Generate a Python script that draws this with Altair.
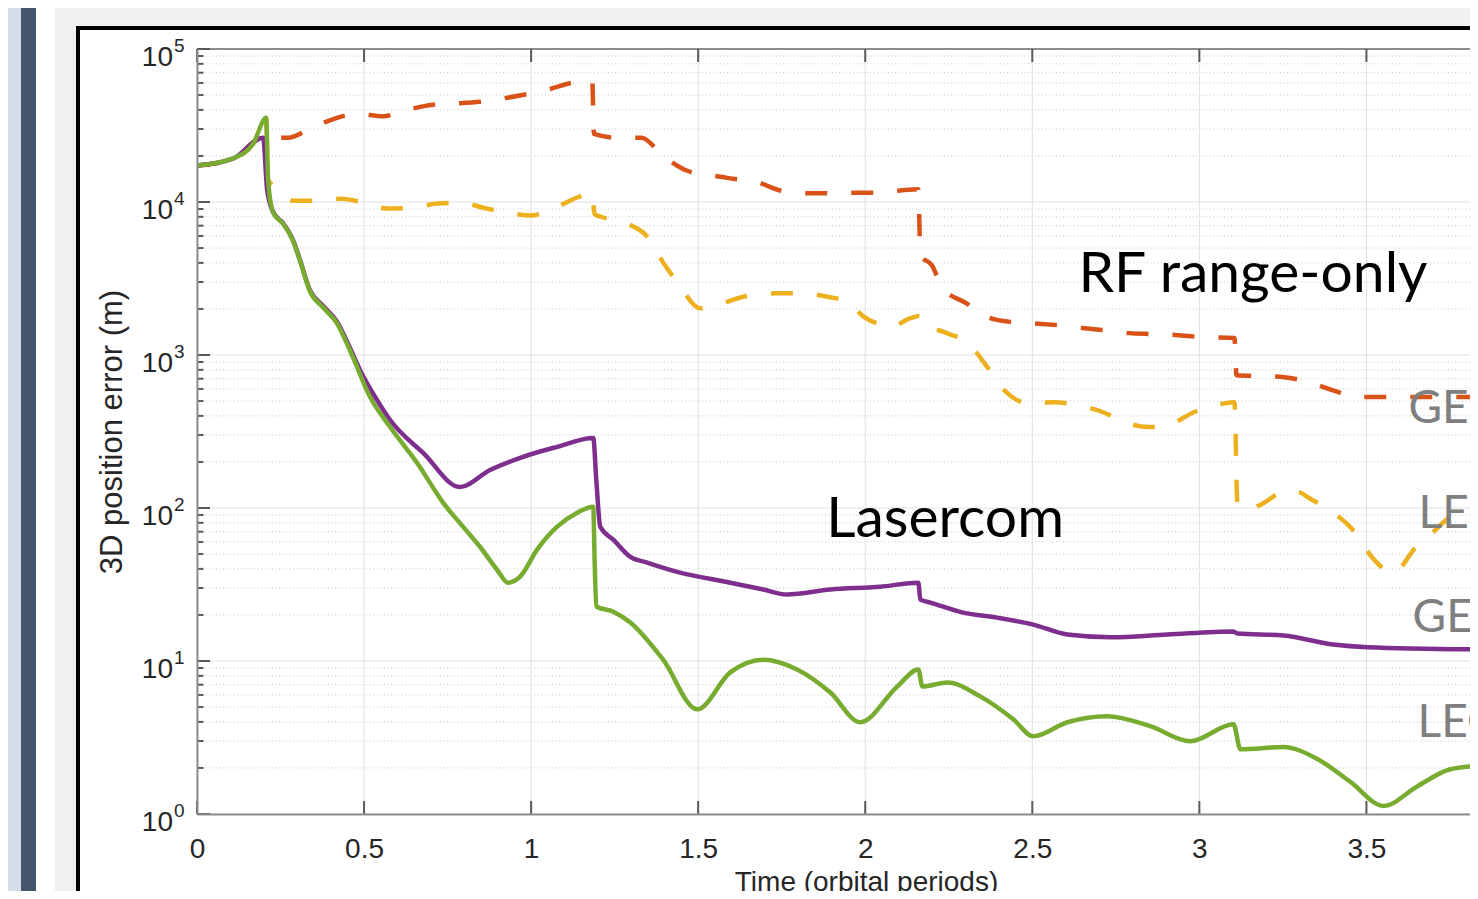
import altair as alt
import pandas as pd

# ---------------- data ----------------
# time in orbital periods, position error in metres
geo_laser_t = [0, 0.108, 0.198, 0.210, 0.228, 0.257, 0.287, 0.308, 0.338, 0.377,
               0.419, 0.458, 0.488, 0.539, 0.578, 0.677, 0.787, 0.877, 0.976, 1.078,
               1.186, 1.195, 1.207, 1.246, 1.296, 1.347, 1.446, 1.596, 1.695, 1.766,
               1.895, 2.045, 2.159, 2.165, 2.195, 2.293, 2.395, 2.503, 2.605, 2.734,
               2.904, 3.102, 3.114, 3.251, 3.401, 3.503, 3.835]
geo_laser_y = [17300, 19200, 26300, 12000, 8600, 7300, 5650, 4200, 2650, 2100,
               1650, 1110, 796, 507, 376, 229, 137, 177, 216, 251,
               287, 153, 75.3, 62.1, 48.1, 44.0, 37.8, 32.5, 29.3, 27.2,
               29.3, 30.6, 32.5, 25.2, 24.1, 20.7, 19.2, 17.3, 14.9, 14.3,
               14.9, 15.6, 15.1, 14.7, 12.8, 12.3, 11.9]

leo_laser_t = [0, 0.108, 0.168, 0.207, 0.213, 0.228, 0.257, 0.287, 0.308, 0.338,
               0.377, 0.419, 0.458, 0.518, 0.578, 0.659, 0.737, 0.796, 0.847, 0.898,
               0.931, 0.967, 1.018, 1.078, 1.138, 1.186, 1.190, 1.195, 1.246, 1.296,
               1.395, 1.497, 1.596, 1.695, 1.796, 1.895, 1.985, 2.096, 2.159, 2.171,
               2.246, 2.344, 2.443, 2.503, 2.605, 2.725, 2.853, 2.973, 3.102, 3.123,
               3.251, 3.353, 3.452, 3.551, 3.653, 3.751, 3.835]
leo_laser_y = [17300, 19300, 24000, 35500, 13800, 8530, 7230, 5600, 4150, 2610,
               2050, 1610, 1070, 531, 338, 197, 108, 75.5, 55.8, 39.5,
               32.5, 35.6, 53.5, 75.5, 93.1, 102, 45.9, 22.7, 21.0, 17.9,
               10.2, 4.83, 8.43, 10.2, 8.81, 6.24, 3.98, 6.82, 8.81, 6.82,
               7.24, 5.87, 4.16, 3.22, 3.98, 4.36, 3.75, 2.99, 3.86, 2.65,
               2.74, 2.29, 1.62, 1.13, 1.52, 1.96, 2.06]

geo_rf_t = [0, 0.108, 0.198, 0.272, 0.338, 0.419, 0.479, 0.557, 0.617, 0.707,
            0.757, 0.847, 0.907, 1.057, 1.12, 1.183, 1.188, 1.26, 1.33, 1.395,
            1.467, 1.542, 1.605, 1.68, 1.746, 1.826, 1.89, 1.964, 2.03, 2.105,
            2.159, 2.165, 2.2, 2.23, 2.302, 2.368, 2.44, 2.505, 2.584, 2.65,
            2.722, 2.79, 2.865, 2.93, 3.003, 3.105, 3.111, 3.189, 3.254, 3.326,
            3.398, 3.473, 3.835]
geo_rf_y = [17300, 19200, 26300, 26300, 30100, 35500, 37700, 36300, 39400, 43200,
            43900, 45200, 47200, 54800, 60000, 61800, 27900, 26300, 26300, 20000,
            16000, 14900, 14200, 13400, 11900, 11400, 11400, 11500, 11500, 11900,
            12100, 4470, 3850, 2770, 2180, 1760, 1640, 1610, 1560, 1500,
            1450, 1390, 1370, 1350, 1310, 1290, 738, 728, 716, 665,
            590, 531, 531]

leo_rf_t = [0, 0.108, 0.168, 0.207, 0.212, 0.24, 0.287, 0.362, 0.434, 0.497,
            0.572, 0.647, 0.719, 0.793, 0.856, 0.931, 0.997, 1.072, 1.138, 1.183,
            1.19, 1.207, 1.287, 1.35, 1.395, 1.44, 1.506, 1.551, 1.641, 1.731,
            1.805, 1.88, 1.955, 1.99, 2.045, 2.075, 2.135, 2.162, 2.171, 2.237,
            2.308, 2.368, 2.422, 2.488, 2.566, 2.632, 2.71, 2.775, 2.847, 2.898,
            2.985, 3.051, 3.105, 3.114, 3.144, 3.183, 3.257, 3.302, 3.323, 3.398,
            3.467, 3.518, 3.557, 3.581, 3.647, 3.701, 3.76, 3.835]
leo_rf_y = [17300, 19300, 24000, 35500, 14100, 12200, 10200, 10200, 10500, 9910,
            9060, 9180, 9770, 9910, 9180, 8530, 8150, 9180, 10700, 11500,
            8320, 8040, 7230, 5860, 4030, 2940, 2020, 2110, 2420, 2530,
            2530, 2420, 2180, 1820, 1580, 1520, 1740, 1800, 1610, 1410,
            1190, 820, 571, 485, 492, 471, 424, 365, 338, 344,
            424, 471, 492, 107, 97.2, 105, 128, 126, 118, 94.4,
            68.9, 47.3, 39.5, 37.8, 55.1, 70.0, 88.9, 93.1]

series_names = ["LEO RF", "GEO RF", "GEO Lasercom", "LEO Lasercom"]
series_colors = ["#EDB120", "#D95319", "#7E2F8E", "#77AC30"]

x_ticks = [0, 0.5, 1, 1.5, 2, 2.5, 3, 3.5]
y_decades = [1, 10, 100, 1000, 10000, 100000]
y_exponents = ["0", "1", "2", "3", "4", "5"]
minor_mult = [2, 3, 4, 5, 6, 7, 8, 9]

ann_text = ["RF range-only", "Lasercom", "GEO", "LEO", "GEO", "LEO"]
ann_t = [2.638, 1.883, 3.626, 3.656, 3.638, 3.653]
ann_y = [2570, 64.9, 359, 74.3, 15.4, 3.18]
ann_color = ["#000000", "#000000", "#7f7f7f", "#7f7f7f", "#7f7f7f", "#7f7f7f"]
ann_size = [57, 57, 46, 46, 46, 46]

# ---------------- tables ----------------
def sdf(t, y, name):
    return pd.DataFrame({"t": t, "y": y, "series": name})

dashed_df = pd.concat([sdf(leo_rf_t, leo_rf_y, "LEO RF"),
                       sdf(geo_rf_t, geo_rf_y, "GEO RF")])
geo_df = sdf(geo_laser_t, geo_laser_y, "GEO Lasercom")
leo_df = sdf(leo_laser_t, leo_laser_y, "LEO Lasercom")
xt_df = pd.DataFrame({"v": x_ticks})
dec_df = pd.DataFrame({"v": y_decades, "base": ["10"] * len(y_decades), "exp": y_exponents})
minor_df = pd.DataFrame({"v": [m * d for d in y_decades[:-1] for m in minor_mult]})
ann_df = pd.DataFrame({"t": ann_t, "y": ann_y, "label": ann_text,
                       "c": ann_color, "s": ann_size})
one = pd.DataFrame({"a": [0]})

# ---------------- layout ----------------
W, H = 1273, 765
XMAX = 3.810
FONT = "Liberation Sans"
TXT = "#262626"

xs = alt.Scale(domain=[0, XMAX], nice=False, zero=False)
ys = alt.Scale(type="log", domain=[1, 100000], nice=False)

x_axis = alt.Axis(values=x_ticks, format="~g", ticks=False, tickSize=0, grid=False,
                  labelPadding=21, labelFont=FONT, labelFontSize=28, labelColor=TXT,
                  labelFlush=False, labelOverlap=False,
                  domainColor="#8c8c8c", domainWidth=2, zindex=1,
                  title="Time (orbital periods)", titleFont=FONT, titleFontSize=28,
                  titleFontWeight="normal", titleColor=TXT, titleX=669, titleY=76,
                  titleAlign="center", titleBaseline="alphabetic")
y_axis = alt.Axis(labels=False, ticks=False, grid=False,
                  domainColor="#8c8c8c", domainWidth=2, zindex=1,
                  title="3D position error (m)", titleFont=FONT, titleFontSize=31,
                  titleFontWeight="normal", titleColor=TXT, titleAngle=270,
                  titleX=-85, titleY=H / 2, titleAlign="center", titleBaseline="middle")

X = lambda f: alt.X(f, scale=xs, axis=x_axis)
Y = lambda f: alt.Y(f, scale=ys, axis=y_axis)

# decorative page framing
band1 = alt.Chart(one).mark_rect(color="#d6dde6").encode(
    x=alt.value(-189), x2=alt.value(-176), y=alt.value(-41), y2=alt.value(H + 77))
band2 = alt.Chart(one).mark_rect(color="#44546a").encode(
    x=alt.value(-176), x2=alt.value(-161), y=alt.value(-41), y2=alt.value(H + 77))
band3 = alt.Chart(one).mark_rect(color="#ffffff").encode(
    x=alt.value(-161), x2=alt.value(-142), y=alt.value(-41), y2=alt.value(H + 77))
frame = alt.Chart(one).mark_rect(fill="#ffffff", stroke="#000000", strokeWidth=4).encode(
    x=alt.value(-119), x2=alt.value(W + 60), y=alt.value(-21), y2=alt.value(H + 150))

# grid
grid_minor = alt.Chart(minor_df).mark_rule(color="#c8c8c8", strokeWidth=1,
                                           strokeDash=[1, 2.5]).encode(y=Y("v:Q"))
grid_major_y = alt.Chart(dec_df).mark_rule(color="#e0e0e0", strokeWidth=1).encode(y=Y("v:Q"))
grid_major_x = alt.Chart(xt_df).mark_rule(color="#e0e0e0", strokeWidth=1).encode(x=X("v:Q"))

color = alt.Color("series:N", scale=alt.Scale(domain=series_names, range=series_colors),
                  legend=None)

dashed = alt.Chart(dashed_df).mark_line(interpolate="monotone", strokeWidth=4.5,
                                        strokeDash=[22, 24], clip=True).encode(
    x=X("t:Q"), y=Y("y:Q"), color=color, detail="series:N")
solid_geo = alt.Chart(geo_df).mark_line(
    interpolate="monotone", strokeWidth=4.5, clip=True).encode(
    x=X("t:Q"), y=Y("y:Q"), color=color)
solid_leo = alt.Chart(leo_df).mark_line(
    interpolate="monotone", strokeWidth=4.5, clip=True).encode(
    x=X("t:Q"), y=Y("y:Q"), color=color)

# inward ticks and top border
top_line = alt.Chart(one).mark_rule(color="#8c8c8c", strokeWidth=2).encode(
    y=alt.value(0), x=alt.value(0), x2=alt.value(W))
ytick_major = alt.Chart(dec_df).mark_rule(color="#595959", strokeWidth=2).encode(
    y=Y("v:Q"), x=alt.value(0), x2=alt.value(13))
ytick_minor = alt.Chart(minor_df).mark_rule(color="#595959", strokeWidth=2).encode(
    y=Y("v:Q"), x=alt.value(0), x2=alt.value(6.5))
xtick_bottom = alt.Chart(xt_df).mark_rule(color="#595959", strokeWidth=2).encode(
    x=X("v:Q"), y=alt.value(H), y2=alt.value(H - 13))
xtick_top = alt.Chart(xt_df).mark_rule(color="#595959", strokeWidth=2).encode(
    x=X("v:Q"), y=alt.value(0), y2=alt.value(13))

# y tick labels 10^k
ylab_base = alt.Chart(dec_df).mark_text(align="right", baseline="alphabetic", dy=17,
                                        font=FONT, fontSize=28, color=TXT).encode(
    y=Y("v:Q"), x=alt.value(-24), text="base:N")
ylab_exp = alt.Chart(dec_df).mark_text(align="left", baseline="alphabetic", dy=3,
                                       font=FONT, fontSize=19, color=TXT).encode(
    y=Y("v:Q"), x=alt.value(-23), text="exp:N")

# annotations
ann = alt.Chart(ann_df).mark_text(align="left", baseline="alphabetic", font="Lato").encode(
    x=X("t:Q"), y=Y("y:Q"), text="label:N",
    color=alt.Color("c:N", scale=None), size=alt.Size("s:Q", scale=None))

chart = alt.layer(
    band1, band2, band3, frame,
    grid_minor, grid_major_y, grid_major_x,
    dashed, solid_geo, solid_leo,
    top_line, ytick_major, ytick_minor, xtick_bottom, xtick_top,
    ylab_base, ylab_exp, ann
).properties(
    width=W, height=H,
    padding={"left": 189, "top": 41, "right": 0, "bottom": 77},
    autosize=alt.AutoSizeParams(type="none"),
    background="#f0f0f0",
).configure_view(stroke="transparent")

chart.save("out.html", embed_options={"renderer": "svg", "actions": False})
